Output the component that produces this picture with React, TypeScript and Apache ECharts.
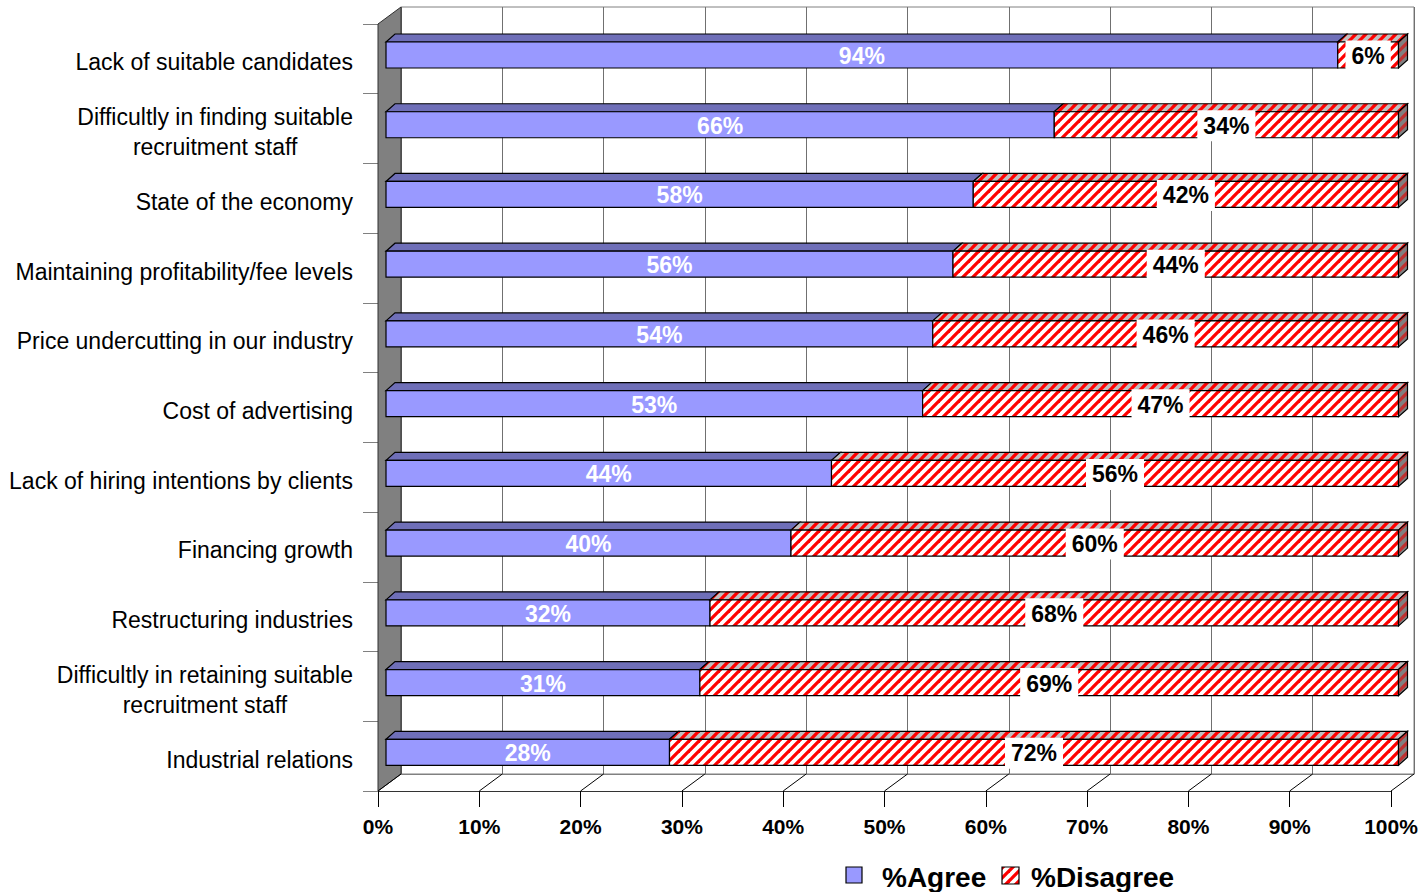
import React, { useEffect, useRef } from 'react';
import * as echarts from 'echarts';

const categories = [
  'Lack of suitable candidates',
  'Difficultly in finding suitable\nrecruitment staff',
  'State of the economy',
  'Maintaining profitability/fee levels',
  'Price undercutting in our industry',
  'Cost of advertising',
  'Lack of hiring intentions by clients',
  'Financing growth',
  'Restructuring industries',
  'Difficultly in retaining suitable\nrecruitment staff',
  'Industrial relations',
];
const agree = [94, 66, 58, 56, 54, 53, 44, 40, 32, 31, 28];
const disagree = [6, 34, 42, 44, 46, 47, 56, 60, 68, 69, 72];
const xTicks = [0, 10, 20, 30, 40, 50, 60, 70, 80, 90, 100];
const seriesNames = ['%Agree', '%Disagree'];

const FONT = '"Liberation Sans", Arial, sans-serif';

function makeStripes(bg: string, fg: string) {
  const P = 10;
  const c = document.createElement('canvas');
  c.width = P;
  c.height = P;
  const ctx = c.getContext('2d')!;
  ctx.fillStyle = bg;
  ctx.fillRect(0, 0, P, P);
  ctx.strokeStyle = fg;
  ctx.lineWidth = 3.3;
  for (const k of [-P, 0, P, 2 * P]) {
    ctx.beginPath();
    ctx.moveTo(k - 2 * P, 2 * P);
    ctx.lineTo(k + 2 * P, -2 * P);
    ctx.stroke();
  }
  return { image: c, repeat: 'repeat' } as any;
}

export default function App() {
  const ref = useRef<HTMLDivElement>(null);

  useEffect(() => {
    const chart = echarts.init(ref.current!, null, { renderer: 'svg' });
    const front = makeStripes('#ffffff', '#ff0000');
    const top = makeStripes('#c0c0c0', '#ff0000');
    const side = makeStripes('#808080', '#c03030');

    const H = 26;
    const DX = 9;
    const DY = -8;

    const barRender = (isAgree: boolean) => (params: any, api: any) => {
      const s = api.value(0);
      const e = api.value(1);
      const cat = api.value(2);
      const val = api.value(3);
      const p0 = api.coord([s, cat]);
      const p1 = api.coord([e, cat]);
      const x0 = p0[0];
      const x1 = p1[0];
      const yc = p0[1];
      const yt = yc - H / 2;
      const yb = yc + H / 2;
      const stroke = { stroke: '#000', lineWidth: 1.2 };
      const children: any[] = [
        {
          type: 'polygon',
          shape: { points: [[x0, yt], [x0 + DX, yt + DY], [x1 + DX, yt + DY], [x1, yt]] },
          style: { fill: isAgree ? '#6f6fb8' : top, ...stroke },
        },
        {
          type: 'rect',
          shape: { x: x0, y: yt, width: x1 - x0, height: H },
          style: { fill: isAgree ? '#9999ff' : front, ...stroke },
        },
      ];
      if (!isAgree) {
        children.push({
          type: 'polygon',
          shape: { points: [[x1, yt], [x1 + DX, yt + DY], [x1 + DX, yb + DY], [x1, yb]] },
          style: { fill: side, ...stroke },
        });
      }
      children.push({
        type: 'text',
        style: isAgree
          ? {
              text: val + '%',
              x: (x0 + x1) / 2,
              y: yc + 1,
              align: 'center',
              verticalAlign: 'middle',
              fill: '#ffffff',
              font: 'bold 23px ' + FONT,
            }
          : {
              text: val + '%',
              x: (x0 + x1) / 2,
              y: yc + 1,
              align: 'center',
              verticalAlign: 'middle',
              fill: '#000000',
              font: 'bold 23px ' + FONT,
              backgroundColor: '#ffffff',
              padding: [8, 6, 0, 6],
            },
      });
      return { type: 'group', children };
    };

    const option: any = {
      animation: false,
      grid: [
        { left: 378, top: 24, width: 1013, height: 767 },
        { left: 401, top: 7, width: 1013, height: 767, show: true, borderColor: '#808080', borderWidth: 1, backgroundColor: 'transparent' },
        { left: 386, top: 20.15, width: 1012.5, height: 767 },
        { left: 378, top: 27.5, width: 1013, height: 767 },
      ],
      xAxis: [
        {
          gridIndex: 0, type: 'value', min: 0, max: 100, interval: 10,
          axisLine: { show: true, lineStyle: { color: '#333', width: 1 } },
          axisTick: { show: true, length: 16, lineStyle: { color: '#000' } },
          axisLabel: { formatter: '{value}%', fontWeight: 'bold', fontSize: 21, fontFamily: FONT, color: '#000', margin: 25 },
          splitLine: { show: false },
        },
        {
          gridIndex: 1, type: 'value', min: 0, max: 100, interval: 10,
          axisLine: { show: true, lineStyle: { color: '#808080' } },
          axisTick: { show: false }, axisLabel: { show: false },
          splitLine: { show: true, lineStyle: { color: '#707070', width: 1 } },
        },
        { gridIndex: 2, type: 'value', min: 0, max: 100, show: false },
        { gridIndex: 3, type: 'value', min: 0, max: 100, show: false },
      ],
      yAxis: [
        {
          gridIndex: 0, type: 'category', data: categories, inverse: true,
          axisLine: { show: true, lineStyle: { color: '#000' } },
          axisTick: { show: true, length: 15, lineStyle: { color: '#808080' } },
          axisLabel: { show: false },
        },
        { gridIndex: 1, type: 'category', data: categories, inverse: true, show: false },
        { gridIndex: 2, type: 'category', data: categories, inverse: true, show: false },
        {
          gridIndex: 3, type: 'category', data: categories, inverse: true,
          axisLine: { show: false }, axisTick: { show: false },
          axisLabel: {
            margin: 25, fontSize: 23, fontFamily: FONT, color: '#000', lineHeight: 30,
            formatter: (v: string) =>
              v.indexOf('\n') >= 0 ? v.split('\n').map((l) => '{c|' + l + '}').join('\n') : v,
            rich: { c: { align: 'center', fontSize: 23, fontFamily: FONT, color: '#000', lineHeight: 30 } },
          },
        },
      ],
      series: [
        {
          type: 'custom', name: 'wall', xAxisIndex: 0, yAxisIndex: 0, z: 1,
          data: [[0, 0]], encode: { x: 0, y: 1 },
          renderItem: (params: any) => {
            const cs = params.coordSys;
            return {
              type: 'polygon',
              shape: { points: [[cs.x, cs.y], [cs.x + 23, cs.y - 17], [cs.x + 23, cs.y + cs.height - 17], [cs.x, cs.y + cs.height]] },
              style: { fill: '#808080', stroke: '#303030', lineWidth: 1 },
            };
          },
        },
        {
          type: 'custom', name: 'floor', xAxisIndex: 0, yAxisIndex: 0, z: 1,
          data: xTicks.map((v) => [v, 0]), encode: { x: 0, y: 1 },
          renderItem: (params: any, api: any) => {
            const cs = params.coordSys;
            const x = api.coord([api.value(0), 0])[0];
            const yb = cs.y + cs.height;
            return { type: 'line', shape: { x1: x, y1: yb, x2: x + 23, y2: yb - 17 }, style: { stroke: '#000', lineWidth: 1 } };
          },
        },
        {
          type: 'custom', name: seriesNames[0], xAxisIndex: 2, yAxisIndex: 2, z: 3,
          data: agree.map((v, i) => [0, v, i, v]), encode: { x: [0, 1], y: 2 },
          renderItem: barRender(true),
        },
        {
          type: 'custom', name: seriesNames[1], xAxisIndex: 2, yAxisIndex: 2, z: 3,
          data: disagree.map((v, i) => [agree[i], agree[i] + v, i, v]), encode: { x: [0, 1], y: 2 },
          renderItem: barRender(false),
        },
      ],
      graphic: [
        { type: 'rect', shape: { x: 846, y: 867, width: 16, height: 16 }, style: { fill: '#9999ff', stroke: '#000', lineWidth: 1.2 } },
        { type: 'text', x: 882, y: 877, style: { text: seriesNames[0], font: 'bold 28px ' + FONT, fill: '#000', verticalAlign: 'middle', align: 'left' } },
        { type: 'rect', shape: { x: 1002, y: 867, width: 17, height: 17 }, style: { fill: front, stroke: '#000', lineWidth: 1.2 } },
        { type: 'text', x: 1031, y: 877, style: { text: seriesNames[1], font: 'bold 28px ' + FONT, fill: '#000', verticalAlign: 'middle', align: 'left' } },
      ],
    };
    chart.setOption(option);
    return () => chart.dispose();
  }, []);

  return (
    <div
      ref={ref}
      style={{ position: 'absolute', left: 0, top: 0, width: 1422, height: 892, background: '#fff' }}
    />
  );
}
